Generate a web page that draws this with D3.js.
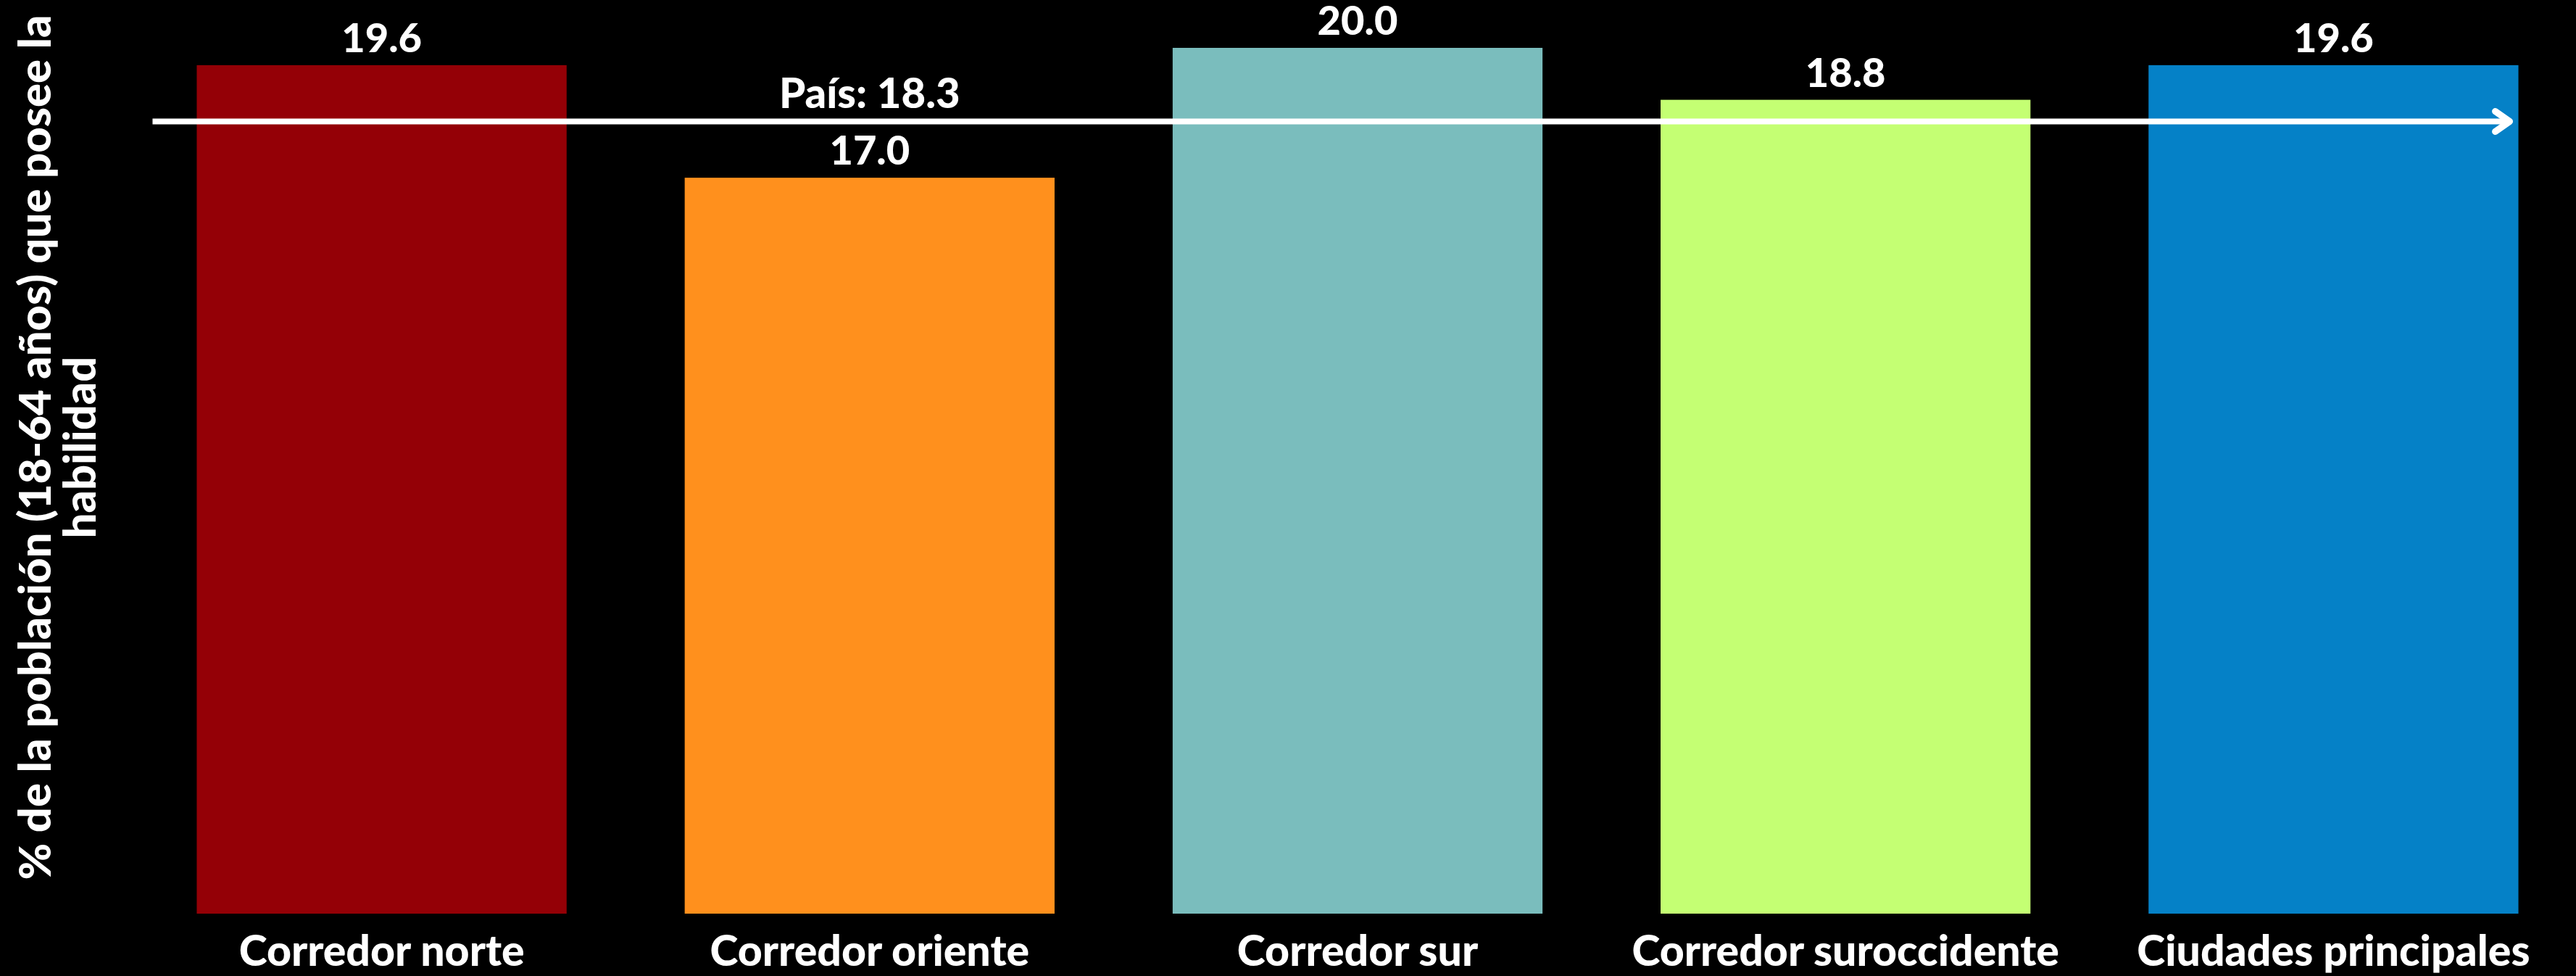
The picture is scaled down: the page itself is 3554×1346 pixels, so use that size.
<!DOCTYPE html>
<html>
<head>
<meta charset="utf-8">
<script src="https://cdn.jsdelivr.net/npm/d3@7"></script>
<style>
  html, body { margin: 0; padding: 0; background: #000; }
  svg { display: block; }
  text { font-family: "Lato", "Open Sans", sans-serif; font-weight: 900; fill: #fff; }
</style>
</head>
<body>
<script>
// Regional shares of the 18-64 population that has the skill
const categories = ["Corredor norte", "Corredor oriente", "Corredor sur", "Corredor suroccidente", "Ciudades principales"];
const values = [19.6, 17.0, 20.0, 18.8, 19.6];
const colors = ["#940006", "#FF901D", "#7ABDBD", "#C4FF73", "#0581C7"];
const nationalValue = 18.3;
const nationalLabel = "País: 18.3";
const yTitleLines = ["% de la población (18-64 años) que posee la", "habilidad"];

const W = 3554, H = 1346;
const svg = d3.select("body").append("svg").attr("width", W).attr("height", H);
svg.append("rect").attr("width", W).attr("height", H).attr("fill", "#000");

const x = d3.scaleBand().domain(categories).range([190, 3556]).paddingInner(0.242).paddingOuter(0.121);
const y = d3.scaleLinear().domain([0, 20]).range([1260, 66]);

// Bars
svg.append("g").selectAll("rect").data(categories).join("rect")
  .attr("x", d => x(d))
  .attr("y", (d, i) => y(values[i]))
  .attr("width", x.bandwidth())
  .attr("height", (d, i) => y(0) - y(values[i]))
  .attr("fill", (d, i) => colors[i]);

// Value labels
svg.append("g").selectAll("text").data(categories).join("text")
  .attr("x", d => x(d) + x.bandwidth() / 2)
  .attr("y", (d, i) => y(values[i]) - 18)
  .attr("text-anchor", "middle")
  .attr("font-size", 56)
  .text((d, i) => values[i].toFixed(1));

// Category axis labels
const xAxis = d3.axisBottom(x).tickSize(0).tickPadding(0);
const gx = svg.append("g").attr("transform", `translate(0, ${y(0)})`).call(xAxis);
gx.select(".domain").remove();
gx.selectAll("text")
  .attr("dy", null)
  .attr("y", 72)
  .attr("font-size", 59)
  .attr("font-family", "Lato, sans-serif")
  .style("fill", "#fff");

// National reference arrow
const yRef = y(nationalValue);
const lineStart = x(categories[0]) - 61;
const lineEnd = x(categories[categories.length - 1]) + x.bandwidth() - 12;
svg.append("line")
  .attr("x1", lineStart).attr("x2", lineEnd - 2)
  .attr("y1", yRef).attr("y2", yRef)
  .attr("stroke", "#fff").attr("stroke-width", 8);
svg.append("path")
  .attr("d", `M${lineEnd - 20},${yRef - 14} L${lineEnd},${yRef} L${lineEnd - 20},${yRef + 14}`)
  .attr("fill", "none").attr("stroke", "#fff").attr("stroke-width", 9)
  .attr("stroke-linecap", "round").attr("stroke-linejoin", "round");
svg.append("text")
  .attr("x", x(categories[1]) + x.bandwidth() / 2)
  .attr("y", yRef - 18)
  .attr("text-anchor", "middle")
  .attr("font-size", 58)
  .text(nationalLabel);

// Y axis title
const yt = svg.append("text")
  .attr("transform", "translate(0, 617) rotate(-90)")
  .attr("text-anchor", "middle")
  .attr("font-size", 61.5);
yTitleLines.forEach((t, i) => {
  yt.append("tspan").attr("x", 0).attr("y", 70 + i * 62).text(t);
});
</script>
</body>
</html>
